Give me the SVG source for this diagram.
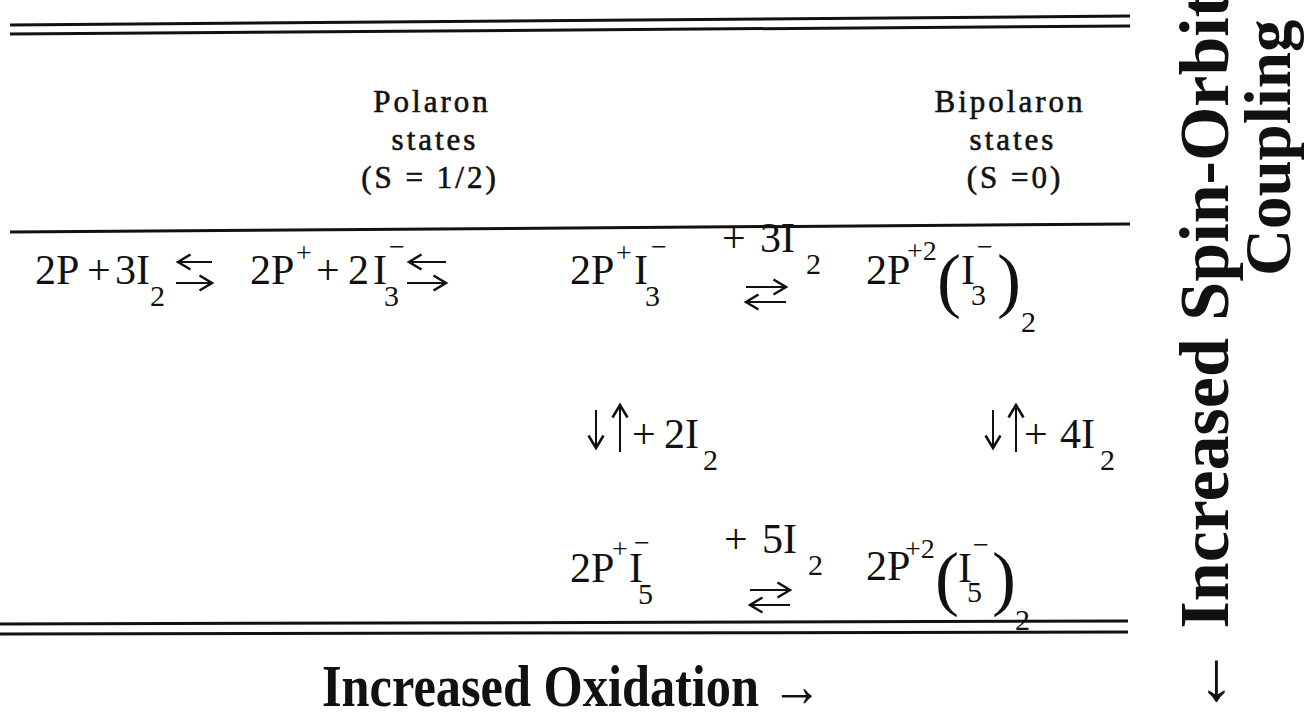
<svg xmlns="http://www.w3.org/2000/svg" width="1313" height="719" viewBox="0 0 1313 719">
<defs>
<marker id="ah" markerUnits="userSpaceOnUse" markerWidth="20" markerHeight="20" viewBox="-12 -8 14 16" refX="0" refY="0" orient="auto">
<path d="M-10,-6 L0,0 L-10,6" fill="none" stroke="#111" stroke-width="2"/>
</marker>
</defs>
<style>
.t{font-family:"Liberation Serif","Times New Roman",serif;fill:#111}
.eq{font-size:42px}
.sb{font-size:30px}
.sp{font-size:28px}
.par{font-size:72px}
.hd{font-size:31px;letter-spacing:3px;text-anchor:middle;stroke:#111;stroke-width:0.6}
.big{font-size:60px;font-weight:bold}
.rule{stroke:#111;stroke-width:3;fill:none}
.arr{stroke:#111;stroke-width:2;fill:none;marker-end:url(#ah)}
</style>
<rect width="1313" height="719" fill="#fff"/>
<g id="rules">
<line class="rule" x1="10" y1="25" x2="1130" y2="16"/>
<line class="rule" x1="10" y1="34" x2="1130" y2="26"/>
<line class="rule" x1="10" y1="232" x2="1130" y2="224"/>
<line class="rule" x1="0" y1="624" x2="1128" y2="621"/>
<line class="rule" x1="0" y1="634" x2="1128" y2="632"/>
</g>
<g id="header-polaron" class="t">
<text class="hd" x="432" y="112">Polaron</text>
<text class="hd" x="435" y="150">states</text>
<text class="hd" x="430" y="188">(S = 1/2)</text>
</g>
<g id="header-bipolaron" class="t">
<text class="hd" x="1010" y="112">Bipolaron</text>
<text class="hd" x="1013" y="150">states</text>
<text class="hd" x="1015" y="188">(S =0)</text>
</g>
<g id="n1" class="t">
<text class="eq"><tspan x="35" y="284">2P</tspan><tspan x="87" y="284">+</tspan><tspan x="115" y="284">3I</tspan><tspan class="sb" x="150" y="306">2</tspan></text>
</g>
<g id="n2" class="t">
<text class="eq"><tspan x="250" y="284">2P</tspan><tspan class="sp" x="296" y="262">+</tspan><tspan x="316" y="284">+</tspan><tspan x="348" y="284">2</tspan><tspan x="373" y="284">I</tspan><tspan class="sb" x="384" y="306">3</tspan><tspan class="sp" x="389" y="256">−</tspan></text>
</g>
<g id="n3" class="t">
<text class="eq"><tspan x="570" y="284">2P</tspan><tspan class="sp" x="616" y="262">+</tspan><tspan x="634" y="284">I</tspan><tspan class="sb" x="645" y="306">3</tspan><tspan class="sp" x="651" y="256">−</tspan></text>
</g>
<g id="n4" class="t">
<text class="eq"><tspan x="866" y="284">2P</tspan><tspan class="sp" x="907" y="260">+2</tspan><tspan class="par" x="937" y="304">(</tspan><tspan x="961" y="284">I</tspan><tspan class="sb" x="971" y="305">3</tspan><tspan class="sp" x="977" y="256">−</tspan><tspan class="par" x="997" y="304">)</tspan><tspan class="sb" x="1021" y="332">2</tspan></text>
</g>
<g id="n5" class="t">
<text class="eq"><tspan x="570" y="582">2P</tspan><tspan class="sp" x="612" y="558">+</tspan><tspan x="629" y="582">I</tspan><tspan class="sb" x="638" y="604">5</tspan><tspan class="sp" x="634" y="552">−</tspan></text>
</g>
<g id="n6" class="t">
<text class="eq"><tspan x="866" y="580">2P</tspan><tspan class="sp" x="905" y="558">+2</tspan><tspan class="par" x="935" y="602">(</tspan><tspan x="958" y="582">I</tspan><tspan class="sb" x="967" y="602">5</tspan><tspan class="sp" x="973" y="554">−</tspan><tspan class="par" x="992" y="602">)</tspan><tspan class="sb" x="1015" y="630">2</tspan></text>
</g>
<g id="labels" class="t">
<text class="eq"><tspan x="722" y="252">+</tspan><tspan x="760" y="252">3I</tspan><tspan class="sb" x="806" y="274">2</tspan></text>
<text class="eq"><tspan x="632" y="448">+</tspan><tspan x="664" y="448">2I</tspan><tspan class="sb" x="703" y="470">2</tspan></text>
<text class="eq"><tspan x="1024" y="448">+</tspan><tspan x="1060" y="448">4I</tspan><tspan class="sb" x="1100" y="470">2</tspan></text>
<text class="eq"><tspan x="724" y="553">+</tspan><tspan x="762" y="553">5I</tspan><tspan class="sb" x="808" y="575">2</tspan></text>
</g>
<g id="connectors">
<line class="arr" x1="212" y1="262" x2="178" y2="262"/>
<line class="arr" x1="176" y1="283" x2="212" y2="283"/>
<line class="arr" x1="446" y1="262" x2="409" y2="262"/>
<line class="arr" x1="407" y1="283" x2="446" y2="283"/>
<line class="arr" x1="746" y1="287" x2="786" y2="287"/>
<line class="arr" x1="786" y1="302" x2="746" y2="302"/>
<line class="arr" x1="596" y1="410" x2="596" y2="448"/>
<line class="arr" x1="620" y1="452" x2="620" y2="405"/>
<line class="arr" x1="993" y1="410" x2="993" y2="448"/>
<line class="arr" x1="1016" y1="452" x2="1016" y2="405"/>
<line class="arr" x1="750" y1="590" x2="790" y2="590"/>
<line class="arr" x1="790" y1="605" x2="750" y2="605"/>
</g>
<g id="caption-oxidation" class="t">
<text class="big" x="322" y="706" textLength="500" lengthAdjust="spacingAndGlyphs">Increased Oxidation →</text>
</g>
<g id="caption-spin" class="t">
<text class="big" style="font-size:70px" transform="translate(1228,716) rotate(-90)">← Increased Spin-Orbit</text>
<text class="big" style="font-size:65px" transform="translate(1290,276) rotate(-90)">Coupling</text>
</g>
</svg>
